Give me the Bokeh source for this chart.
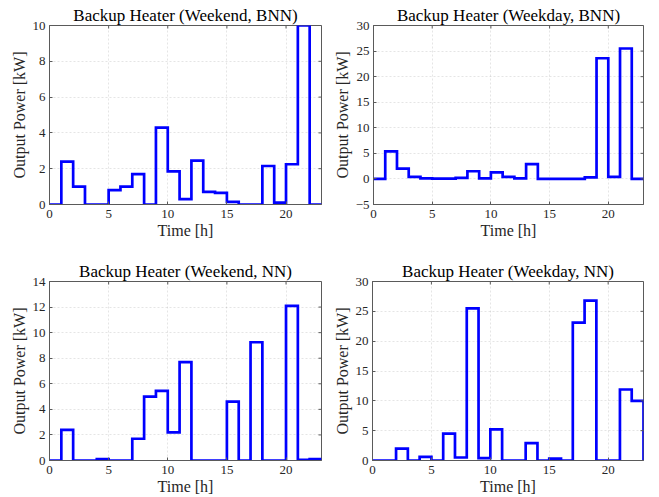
import math
from bokeh.plotting import figure
from bokeh.layouts import column, row
from bokeh.models import FixedTicker, Range1d
from bokeh.embed import file_html
from bokeh.resources import INLINE

hours = list(range(24))
x_ticks = [0, 5, 10, 15, 20]

weekend_bnn = [0, 2.4, 1.0, 0, 0, 0.8, 1.0, 1.7, 0, 4.3, 1.85, 0.3, 2.45, 0.7, 0.65, 0.15,
               0, 0, 2.15, 0.1, 2.25, 10.0, 0, 0]
weekday_bnn = [0, 5.4, 2.0, 0.4, 0.1, 0.05, 0.05, 0.2, 1.5, 0.1, 1.3, 0.4, 0.1, 2.9, 0, 0,
               0, 0, 0.3, 23.6, 0.4, 25.5, 0, 0]
weekend_nn = [0, 2.4, 0, 0, 0.1, 0, 0, 1.7, 5.0, 5.45, 2.2, 7.7, 0, 0, 0, 4.6,
              0, 9.25, 0, 0, 12.1, 0.05, 0.1, 0.1]
weekday_nn = [0, 0, 2.0, 0, 0.6, 0, 4.5, 0.5, 25.5, 0.4, 5.2, 0, 0, 2.9, 0, 0.3,
              0, 23.1, 26.8, 0, 0, 11.9, 10.0, 0]

titles = ["Backup Heater (Weekend, BNN)", "Backup Heater (Weekday, BNN)",
          "Backup Heater (Weekend, NN)", "Backup Heater (Weekday, NN)"]
x_label = "Time [h]"
y_label = "Output Power [kW]"

FONT = "'Liberation Serif', 'DejaVu Serif', serif"
AX = "#5a5a5a"
TXT = "#262626"


def make(title, vals, ylim, yticks, w, h, bl, br, bt, bb):
    p = figure(width=w, height=h, output_backend="svg", toolbar_location=None,
               x_range=Range1d(0, 23), y_range=Range1d(*ylim),
               min_border_left=bl, min_border_right=br, min_border_top=bt,
               min_border_bottom=bb, title=title)
    p.title.text_font = FONT
    p.title.text_font_size = "17px"
    p.title.text_font_style = "normal"
    p.title.text_color = "#000000"
    p.title.align = "center"
    p.title.standoff = 2
    p.outline_line_color = AX
    p.outline_line_alpha = 1
    p.background_fill_color = "white"
    p.border_fill_color = "white"

    p.xaxis.ticker = FixedTicker(ticks=x_ticks)
    p.yaxis.ticker = FixedTicker(ticks=yticks)
    for ax in (p.xaxis[0], p.yaxis[0]):
        ax.major_tick_in = 3
        ax.major_tick_out = 0
        ax.minor_tick_in = 0
        ax.minor_tick_out = 0
        ax.axis_line_color = AX
        ax.major_tick_line_color = AX
        ax.major_label_text_font = FONT
        ax.major_label_text_font_size = "13px"
        ax.major_label_text_color = TXT
        ax.axis_label_text_font = FONT
        ax.axis_label_text_font_size = "16px"
        ax.axis_label_text_font_style = "normal"
        ax.axis_label_text_color = TXT
        ax.axis_label_standoff = 2
    p.xaxis.major_label_standoff = 5
    p.yaxis.major_label_standoff = 4
    p.xaxis.axis_label_standoff = 1
    p.xaxis.axis_label = x_label
    p.yaxis.axis_label = y_label

    p.grid.grid_line_color = "#262626"
    p.grid.grid_line_alpha = 0.12
    p.grid.grid_line_dash = "2 2"

    p.step(hours, vals, mode="after", line_color="#0000ff", line_width=2.7,
           line_join="miter")

    # box ticks on the right and top edges (half of each dash falls inside the frame)
    p.scatter([23] * len(yticks), yticks, marker="dash", size=6, line_color=AX,
              line_width=1)
    p.scatter(x_ticks, [ylim[1]] * len(x_ticks), marker="dash", size=6, angle=math.pi / 2,
              line_color=AX, line_width=1)
    return p


p1 = make(titles[0], weekend_bnn, (0, 10), [0, 2, 4, 6, 8, 10], 330, 248, 49, 9, 25, 44)
p2 = make(titles[1], weekday_bnn, (-5, 30), [-5, 0, 5, 10, 15, 20, 25, 30], 329, 248, 41, 16, 25, 44)
p3 = make(titles[2], weekend_nn, (0, 14), [0, 2, 4, 6, 8, 10, 12, 14], 330, 249, 49, 9, 33, 37)
p4 = make(titles[3], weekday_nn, (0, 30), [0, 5, 10, 15, 20, 25, 30], 329, 249, 41, 16, 33, 37)

layout = column(row(p1, p2), row(p3, p4))
open("out.html", "w").write(file_html(layout, INLINE))
